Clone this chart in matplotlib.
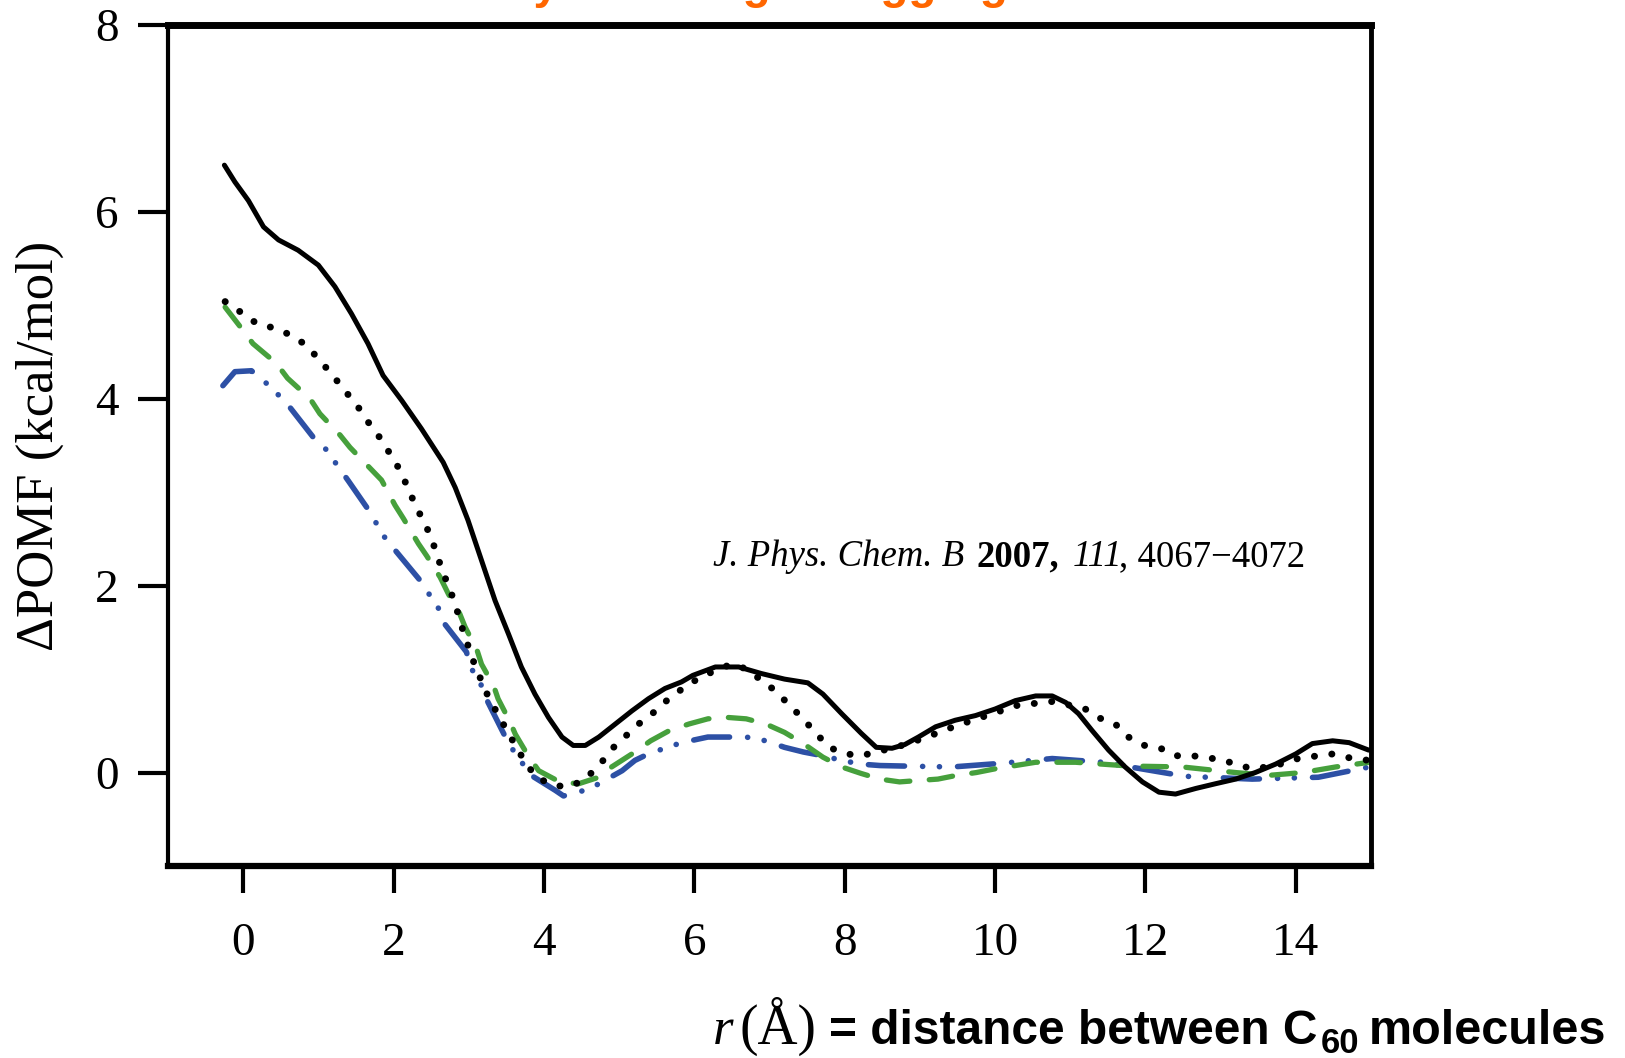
import matplotlib
matplotlib.use('Agg')
import matplotlib.pyplot as plt

plt.rcParams['font.family'] = ['Liberation Serif', 'DejaVu Serif']
plt.rcParams['lines.scale_dashes'] = False

# ---- data (r in Angstrom, dPOMF in kcal/mol) ----
solid_x = [-0.25, -0.11, 0.07, 0.27, 0.47, 0.73, 1.0, 1.22, 1.44, 1.66, 1.86, 2.11, 2.37, 2.66, 2.82,
           2.99, 3.17, 3.35, 3.53, 3.70, 3.88, 4.06, 4.24, 4.39, 4.55, 4.73, 4.95, 5.17, 5.39, 5.61,
           5.83, 5.98, 6.28, 6.59, 6.89, 7.20, 7.51, 7.71, 7.96, 8.22, 8.42, 8.63, 8.80, 8.98, 9.21,
           9.47, 9.74, 10.0, 10.27, 10.54, 10.76, 10.94, 11.11, 11.29, 11.51, 11.73, 11.96, 12.18,
           12.40, 12.67, 12.93, 13.20, 13.46, 13.73, 14.0, 14.22, 14.49, 14.71, 14.97]
solid_y = [6.50, 6.32, 6.12, 5.84, 5.70, 5.59, 5.43, 5.20, 4.91, 4.59, 4.25, 3.98, 3.68, 3.32, 3.05,
           2.70, 2.27, 1.84, 1.48, 1.13, 0.84, 0.59, 0.38, 0.29, 0.29, 0.38, 0.52, 0.66, 0.79, 0.90,
           0.97, 1.04, 1.13, 1.13, 1.06, 1.00, 0.96, 0.84, 0.63, 0.42, 0.27, 0.26, 0.30, 0.38, 0.49,
           0.56, 0.61, 0.68, 0.77, 0.82, 0.82, 0.75, 0.63, 0.45, 0.24, 0.06, -0.10, -0.21,
           -0.23, -0.17, -0.12, -0.07, 0.00, 0.09, 0.20, 0.31, 0.34, 0.32, 0.24]

dot_x = [-0.24, -0.02, 0.19, 0.40, 0.61, 0.83, 1.01, 1.18, 1.35, 1.53, 1.68, 1.84, 2.09, 2.28, 2.49,
         2.64, 2.81, 2.93, 3.08, 3.26, 3.50, 3.75, 3.90, 4.13, 4.34, 4.53, 4.73, 4.90, 5.10, 5.26,
         5.47, 5.66, 5.88, 6.10, 6.49, 6.69, 7.07, 7.28, 7.44, 7.62, 7.79, 8.02, 8.22, 8.42, 8.72,
         9.06, 9.48, 9.89, 10.3, 10.76, 11.18, 11.4, 11.6, 11.75, 11.99, 12.2, 12.4, 12.62, 12.82,
         13.05, 13.26, 13.46, 13.75, 14.03, 14.3, 14.5, 14.7, 14.97]
dot_y = [5.04, 4.92, 4.80, 4.76, 4.69, 4.58, 4.42, 4.26, 4.09, 3.91, 3.73, 3.56, 3.23, 2.88, 2.54,
         2.18, 1.83, 1.50, 1.15, 0.81, 0.46, 0.11, -0.05, -0.14, -0.15, -0.08, 0.07, 0.25, 0.40, 0.52,
         0.65, 0.79, 0.92, 1.03, 1.16, 1.11, 0.88, 0.71, 0.58, 0.42, 0.27, 0.20, 0.18, 0.22, 0.28,
         0.37, 0.50, 0.61, 0.72, 0.76, 0.69, 0.58, 0.52, 0.39, 0.29, 0.26, 0.18, 0.18, 0.16,
         0.13, 0.07, 0.04, 0.08, 0.15, 0.18, 0.20, 0.16, 0.13]

green_x = [-0.24, 0.0, 0.13, 0.44, 0.59, 0.89, 1.02, 1.29, 1.42, 1.84, 2.02, 2.13, 2.33, 2.44, 2.62,
           2.73, 2.88, 2.95, 3.11, 3.17, 3.33, 3.39, 3.55, 3.62, 3.79, 3.93, 4.21, 4.46, 4.73, 4.90,
           5.21, 5.42, 5.67, 5.93, 6.18, 6.44, 6.69, 6.95, 7.20, 7.45, 7.71, 7.96, 8.22, 8.47, 8.73,
           8.98, 9.24, 9.49, 9.75, 10.0, 10.54, 11.07, 11.78, 12.49, 13.2, 13.64, 14.09, 14.53, 14.98]
green_y = [4.98, 4.73, 4.59, 4.38, 4.22, 4.00, 3.84, 3.61, 3.48, 3.13, 2.86, 2.72, 2.45, 2.32, 2.09,
           1.91, 1.70, 1.56, 1.31, 1.16, 0.93, 0.79, 0.54, 0.41, 0.18, 0.02, -0.10, -0.12, -0.05, 0.06,
           0.22, 0.34, 0.45, 0.52, 0.575, 0.59, 0.575, 0.52, 0.43, 0.31, 0.165, 0.06, -0.01, -0.07, -0.10,
           -0.085, -0.07, -0.03, 0.0, 0.04, 0.11, 0.11, 0.07, 0.06, 0.00, -0.03, 0.00, 0.06, 0.11]

blue_x = [-0.27, -0.11, 0.11, 0.29, 0.47, 0.61, 0.93, 1.09, 1.40, 1.65, 1.88, 2.02, 2.37, 2.48, 2.62,
          2.68, 2.97, 3.02, 3.15, 3.22, 3.50, 3.62, 3.75, 3.79, 4.15, 4.26, 4.46, 4.64, 5.04, 5.21,
          5.39, 5.57, 5.83, 6.18, 6.44, 6.69, 6.95, 7.2, 7.45, 7.71, 7.96, 8.22, 8.47, 8.76, 9.43,
          10.1, 10.76, 11.43, 12.09, 12.53, 13.42, 14.3, 14.98]
blue_y = [4.14, 4.29, 4.30, 4.18, 4.04, 3.92, 3.59, 3.47, 3.12, 2.83, 2.52, 2.38, 2.04, 1.90, 1.73,
          1.59, 1.29, 1.13, 0.97, 0.81, 0.36, 0.20, 0.06, -0.01, -0.19, -0.25, -0.21, -0.16, 0.02, 0.13,
          0.20, 0.25, 0.32, 0.38, 0.38, 0.38, 0.34, 0.27, 0.22, 0.18, 0.13, 0.09, 0.075, 0.07, 0.06,
          0.10, 0.15, 0.11, 0.02, -0.04, -0.07, -0.05, 0.06]

x_ticks = [0, 2, 4, 6, 8, 10, 12, 14]
y_ticks = [0, 2, 4, 6, 8]

W, H = 1625, 1058
SANS = ['Liberation Sans', 'DejaVu Sans']
GREEN = '#46a03c'
BLUE = '#2d50a5'

fig = plt.figure(figsize=(W / 100, H / 100), dpi=100)
ax = fig.add_axes([168 / W, 1 - 866 / H, (1371 - 168) / W, (866 - 25) / H])

ax.plot(blue_x, blue_y, color=BLUE, lw=4.0, ls=(0, (26, 13, 0.1, 12, 0.1, 13)),
        dash_capstyle='round')
ax.plot(green_x, green_y, color=GREEN, lw=3.8, ls=(0, (17, 14)), dash_capstyle='round')
ax.plot(dot_x, dot_y, color='k', lw=5.0, ls=(0, (0.1, 12.5)), dash_capstyle='round')
ax.plot(solid_x, solid_y, color='k', lw=3.6, solid_capstyle='round', solid_joinstyle='round')

ax.set_xlim(-1, 15)
ax.set_ylim(-1, 8)
ax.set_xticks(x_ticks)
ax.set_yticks(y_ticks)
ax.tick_params(direction='out', width=3, labelsize=34, color='k')
ax.tick_params(axis='x', length=19.5, pad=21)
ax.tick_params(axis='y', length=21.5, pad=14)
ax.spines['top'].set_linewidth(5)
ax.spines['bottom'].set_linewidth(4.5)
ax.spines['left'].set_linewidth(3)
ax.spines['right'].set_linewidth(3.5)

fig.text(40 / W, 1 - 446 / H, '\u0394POMF (kcal/mol)', rotation=90, ha='center', va='center',
         fontsize=38)

renderer = fig.canvas.get_renderer()


def put(x_px, y_px, s, **kw):
    # x, y in pixels, y from the bottom, baseline anchored; returns right edge in pixels
    t = fig.text(x_px / W, y_px / H, s, ha='left', va='baseline', **kw)
    return t.get_window_extent(renderer).x1


# citation inside the plot
put(713, 492, 'J. Phys. Chem. B', style='italic', fontsize=26.5)
put(976, 492, '2007,', weight='bold', fontsize=26.5)
put(1073, 492, '111', style='italic', fontsize=26.5)
put(1119, 492, ', 4067\u22124072', fontsize=26.5)

# x label
put(713, 14, 'r', style='italic', fontsize=38)
put(740, 14, '(\u00c5)', fontsize=40)
x_end = put(829, 14, '= distance between C', family=SANS, weight='bold', fontsize=34.5)
x_end = put(x_end + 3, 5, '60', family=SANS, weight='bold', fontsize=25)
put(x_end + 10, 14, 'molecules', family=SANS, weight='bold', fontsize=35)

# slide title, cut off by the top edge
fig.text(253 / W, 1.0015, 'Low solubility \u2192 far higher aggregation', ha='left', va='baseline',
         color='#ff6600', weight='bold', fontsize=33, family=SANS)

fig.savefig('out.png', dpi=100)
